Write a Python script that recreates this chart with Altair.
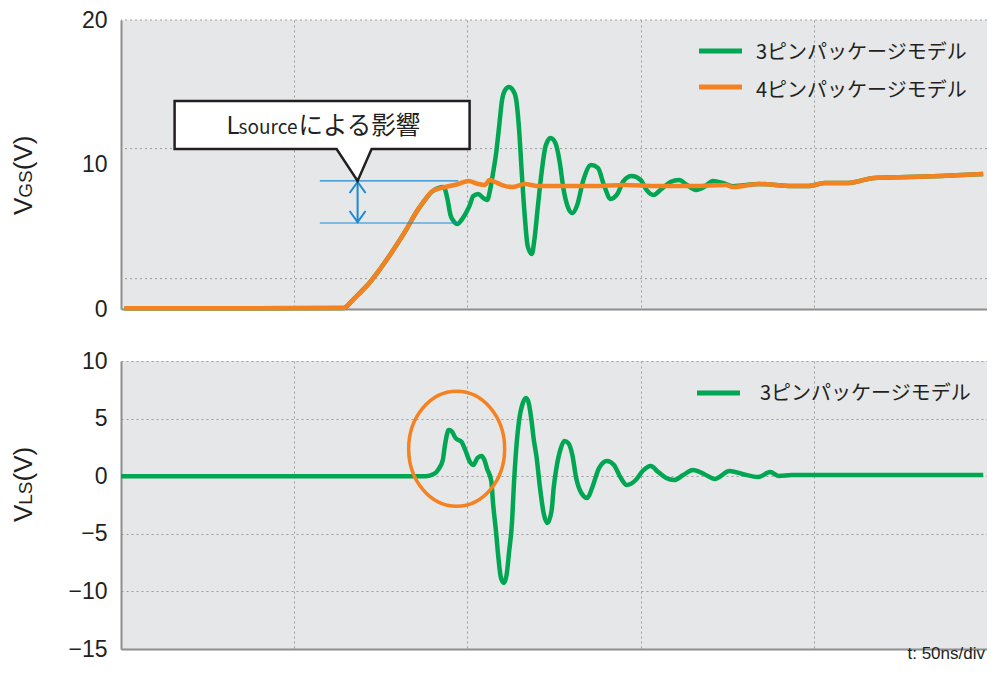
import altair as alt
import pandas as pd

# ---------------- data ----------------
series = ["3ピンパッケージモデル", "4ピンパッケージモデル"]
series_colors = ["#00a651", "#f58220"]

# VGS, 4-pin package model (ns, V)
t_vgs_4pin = [1, 64.3, 66.6, 68.9, 71.7, 74.6, 78.6, 82.3, 85.1, 87.1,
              90.0, 93.7, 97.4, 100.3, 103.1, 105.1, 106.3, 108.0, 110.0, 112.9,
              116.6, 120.3, 125.1, 136.6, 145.4, 155.0, 165.0, 174.6, 176.6, 184.3,
              193.7, 198.6, 203.1, 210.0, 217.4, 227.1, 236.6, 248.9]
v_vgs_4pin = [0.05, 0.07, 0.55, 1.1, 1.8, 2.7, 4.08, 5.47, 6.64, 7.34,
              8.17, 8.44, 8.65, 8.86, 8.65, 8.58, 8.93, 8.79, 8.58, 8.44,
              8.65, 8.51, 8.51, 8.51, 8.58, 8.51, 8.51, 8.58, 8.44, 8.65,
              8.51, 8.51, 8.72, 8.72, 9.07, 9.13, 9.2, 9.34]

# VGS, 3-pin package model
t_vgs_3pin = [1, 64.3, 66.6, 68.9, 71.7, 74.6, 78.6, 82.3, 85.1, 87.1,
              90.0, 93.1, 94.3, 95.1, 96.0, 97.1, 98.3, 99.4, 100.6, 101.7,
              103.1, 104.6, 105.7, 106.6, 107.4, 108.3, 109.1, 110.0, 110.9, 112.0,
              113.1, 114.0, 114.9, 115.7, 116.6, 117.4, 118.6, 119.4, 120.3, 121.4,
              122.6, 124.0, 125.4, 126.6, 127.7, 128.9, 130.3, 131.7, 133.4, 135.7,
              137.7, 139.4, 141.4, 143.1, 145.1, 147.4, 150.0, 151.7, 153.7, 156.0,
              158.6, 161.1, 163.4, 166.0, 168.3, 170.9, 173.7, 176.6, 184.3, 193.7,
              198.6, 203.1, 210.0, 217.4, 227.1, 236.6, 248.9]
v_vgs_3pin = [0.05, 0.07, 0.55, 1.1, 1.8, 2.7, 4.08, 5.47, 6.64, 7.34,
              8.17, 8.45, 7.54, 6.51, 6.09, 5.88, 6.16, 6.57, 7.13, 7.82,
              7.96, 7.68, 7.54, 8.3, 9.41, 10.8, 12.5, 14.46, 15.16, 15.36,
              15.16, 14.6, 12.5, 9.41, 6.3, 4.36, 3.81, 4.91, 7.0, 9.41,
              11.3, 11.83, 11.49, 10.24, 8.37, 7.13, 6.64, 7.2, 8.86, 9.96,
              9.76, 8.58, 7.61, 7.89, 8.86, 9.2, 8.93, 8.24, 7.89, 8.3,
              8.79, 8.93, 8.58, 8.24, 8.44, 8.86, 8.72, 8.5, 8.65, 8.51,
              8.51, 8.72, 8.72, 9.07, 9.13, 9.2, 9.34]

# VLS, 3-pin package model
t_vls_3pin = [0, 88.0, 90.3, 91.7, 92.9, 93.4, 94.0, 94.6, 95.4, 96.6,
              98.3, 99.4, 100.6, 101.7, 102.9, 104.0, 104.9, 105.7, 106.9, 107.4,
              108.3, 108.9, 109.7, 110.6, 111.4, 112.0, 112.9, 113.4, 114.0, 114.9,
              116.0, 116.9, 117.7, 118.6, 119.1, 120.0, 120.9, 122.0, 123.1, 124.3,
              124.9, 125.7, 126.9, 128.0, 129.1, 130.3, 131.4, 132.9, 134.6, 136.0,
              138.0, 140.3, 142.3, 144.3, 146.0, 148.6, 150.6, 152.9, 155.1, 157.4,
              159.7, 162.3, 165.1, 168.3, 171.4, 175.7, 179.4, 184.0, 187.4, 190.0,
              193.7, 248.9]
v_vls_3pin = [0, 0, 0.19, 0.62, 1.4, 2.45, 3.49, 4.01, 3.92, 3.3,
              2.97, 2.27, 1.32, 0.97, 1.58, 1.75, 1.41, 0.63, -0.42, -2.33,
              -4.93, -6.93, -8.84, -9.27, -8.4, -6.67, -3.9, -0.85, 2.01, 4.79,
              6.35, 6.79, 6.35, 4.62, 3.32, 1.58, -0.85, -3.19, -4.06, -3.01,
              -1.02, 0.71, 2.36, 3.05, 2.88, 1.84, -0.16, -1.46, -1.89, -1.02,
              0.71, 1.32, 0.97, -0.16, -0.76, -0.33, 0.45, 0.88, 0.36, -0.16,
              -0.33, 0.1, 0.54, 0.19, -0.24, 0.45, 0.19, -0.07, 0.36, 0.02,
              0.1, 0.1]

t_grid = [0, 50, 100, 150, 200, 250]
vgs_ticks = [0, 10, 20]
vgs_grid = [2.1, 11.1, 20]
vls_ticks = [-15, -10, -5, 0, 5, 10]

# annotation anchors (data coordinates)
ann_t = 68.3          # double arrow position (ns)
ann_hi = 8.86         # 4-pin level (V)
ann_lo = 5.95         # 3-pin dip (V)
ann_t0, ann_t1 = 57.4, 97.4
circle_t, circle_v = 96.9, 2.39
callout_parts = ["L", "source", "による影響"]
time_note = "t: 50ns/div"

# ---------------- styling ----------------
DARK = "#231f20"
GRID = "#9d9d9d"
AXIS = "#8e8e8e"
BLUE = "#1a8ad4"
BG = "#e6e7e8"
LAT = "Liberation Sans"
JP = "Noto Sans CJK JP"
W, H_TOP, H_BOT = 866, 289, 288

one = alt.Data(values=[{"k": 0}])

xs = alt.Scale(domain=[0, 250], nice=False, zero=False)
x_axis = alt.Axis(values=t_grid, labels=False, ticks=False, title=None, grid=True,
                  gridDash=[2, 3], gridColor=GRID, gridWidth=1,
                  domainColor=AXIS, domainWidth=2)


def X(f="t"):
    return alt.X(f"{f}:Q", scale=xs, axis=x_axis)


ys_top = alt.Scale(domain=[0, 20], nice=False, zero=False)
y_axis_top = alt.Axis(values=vgs_ticks, grid=False, ticks=False, title=None,
                      labelPadding=14, labelFontSize=23, labelFont=LAT,
                      labelColor=DARK, domainColor=AXIS, domainWidth=2)
ys_bot = alt.Scale(domain=[-15, 10], nice=False, zero=False)
y_axis_bot = alt.Axis(values=vls_ticks, grid=True, gridDash=[2, 3], gridColor=GRID,
                      gridWidth=1, ticks=False, title=None, labelPadding=14,
                      labelFontSize=23, labelFont=LAT, labelColor=DARK,
                      domainColor=AXIS, domainWidth=2)


def YT(f="v"):
    return alt.Y(f"{f}:Q", scale=ys_top, axis=y_axis_top)


def YB(f="v"):
    return alt.Y(f"{f}:Q", scale=ys_bot, axis=y_axis_bot)


def ptext(s, x, y, size, font, align="left", baseline="alphabetic", angle=0, color=DARK):
    return alt.Chart(one).mark_text(text=s, fontSize=size, font=font, align=align,
                                    baseline=baseline, angle=angle, color=color).encode(
        x=alt.value(x), y=alt.value(y))


def legend_entry(color, label, x0, x1, y_line, xt, yt):
    r = alt.Chart(one).mark_rule(color=color, strokeWidth=5).encode(
        x=alt.value(x0), x2=alt.value(x1), y=alt.value(y_line))
    t = ptext(label, xt, yt, 20, JP, baseline="middle")
    return [r, t]


def ellipse_path(rx, ry):
    k = 0.5523
    kx, ky = rx * k, ry * k
    return (f"M {-rx} 0 C {-rx} {-ky} {-kx} {-ry} 0 {-ry} "
            f"C {kx} {-ry} {rx} {-ky} {rx} 0 "
            f"C {rx} {ky} {kx} {ry} 0 {ry} "
            f"C {-kx} {ry} {-rx} {ky} {-rx} 0 Z")


def trace(df, color, y):
    return alt.Chart(df).mark_line(color=color, strokeWidth=4.5, interpolate="monotone",
                                   strokeJoin="round").encode(x=X(), y=y)


# ---------------- top panel (VGS) ----------------
df_g = pd.DataFrame({"t": t_vgs_3pin, "v": v_vgs_3pin})
df_o = pd.DataFrame({"t": t_vgs_4pin, "v": v_vgs_4pin})

grid_top = alt.Chart(pd.DataFrame({"v": vgs_grid})).mark_rule(
    color=GRID, strokeWidth=1, strokeDash=[2, 3]).encode(y=YT())
line_g = trace(df_g, series_colors[0], YT())
line_o = trace(df_o, series_colors[1], YT())

blue_lines = alt.Chart(pd.DataFrame({"t": [ann_t0, ann_t0], "t2": [ann_t1, ann_t1],
                                     "v": [ann_hi, ann_lo]})).mark_rule(
    color=BLUE, strokeWidth=1.2).encode(x=X(), x2="t2:Q", y=YT())
shaft = alt.Chart(pd.DataFrame({"t": [ann_t], "v": [ann_hi], "v2": [ann_lo]})).mark_rule(
    color=BLUE, strokeWidth=2).encode(x=X(), y=YT(), y2="v2:Q")
head_up = alt.Chart(pd.DataFrame({"t": [ann_t], "v": [ann_hi]})).mark_point(
    shape="M -8 12 L 0 1 L 8 12", size=4, filled=False, color=BLUE, strokeWidth=2,
    opacity=1).encode(x=X(), y=YT())
head_dn = alt.Chart(pd.DataFrame({"t": [ann_t], "v": [ann_lo]})).mark_point(
    shape="M -8 -12 L 0 -1 L 8 -12", size=4, filled=False, color=BLUE, strokeWidth=2,
    opacity=1).encode(x=X(), y=YT())

anchor = pd.DataFrame({"t": [ann_t], "v": [ann_hi]})
callout = alt.Chart(anchor).mark_point(
    shape="M -183 -80 L 112 -80 L 112 -32 L 14 -32 L 0 0 L -21 -32 L -183 -32 Z",
    size=4, filled=True, fill="white", stroke=DARK, strokeWidth=2.5, opacity=1,
    strokeJoin="miter").encode(x=X(), y=YT())
c_txt1 = alt.Chart(anchor).mark_text(text=callout_parts[0], font=JP, fontSize=24,
                                     align="left", baseline="alphabetic", dx=-131, dy=-47,
                                     color=DARK).encode(x=X(), y=YT())
c_txt2 = alt.Chart(anchor).mark_text(text=callout_parts[1], font=JP, fontSize=19,
                                     align="left", baseline="alphabetic", dx=-119, dy=-47,
                                     color=DARK).encode(x=X(), y=YT())
c_txt3 = alt.Chart(anchor).mark_text(text=callout_parts[2], font=JP, fontSize=24.5,
                                     align="left", baseline="alphabetic", dx=-59, dy=-47,
                                     color=DARK).encode(x=X(), y=YT())

leg_top = (legend_entry(series_colors[0], series[0], 578, 621, 31, 635, 33)
           + legend_entry(series_colors[1], series[1], 578, 621, 67, 635, 71))

title_top = [ptext("V", -89, 195, 26, LAT, angle=270),
             ptext("GS", -89, 177.7, 19, LAT, angle=270),
             ptext("(V)", -89, 150.2, 26, LAT, angle=270)]

top = alt.layer(grid_top, line_g, line_o, blue_lines, shaft, head_up, head_dn,
                callout, c_txt1, c_txt2, c_txt3, *leg_top, *title_top).properties(
    width=W, height=H_TOP)

# ---------------- bottom panel (VLS) ----------------
df_ls = pd.DataFrame({"t": t_vls_3pin, "v": v_vls_3pin})
line_ls = trace(df_ls, series_colors[0], YB())
ellipse = alt.Chart(pd.DataFrame({"t": [circle_t], "v": [circle_v]})).mark_point(
    shape=ellipse_path(48, 57.5), size=4, filled=False, color=series_colors[1],
    strokeWidth=3.5, opacity=1).encode(x=X(), y=YB())

leg_bot = legend_entry(series_colors[0], series[0], 576, 619, 32, 639, 33)
title_bot = [ptext("V", -89, 161, 26, LAT, angle=270),
             ptext("LS", -89, 143.7, 19, LAT, angle=270),
             ptext("(V)", -89, 120.4, 26, LAT, angle=270)]
note = ptext(time_note, 864, 298, 17, LAT, align="right")

bottom = alt.layer(line_ls, ellipse, *leg_bot, *title_bot, note).properties(
    width=W, height=H_BOT)

chart = alt.vconcat(top, bottom, spacing=52, bounds="flush").properties(
    padding={"left": 2, "top": 1, "right": -1.5, "bottom": 0}
).configure_view(fill=BG, strokeWidth=0)

chart.save("out.html", embed_options={"renderer": "svg", "actions": False})
